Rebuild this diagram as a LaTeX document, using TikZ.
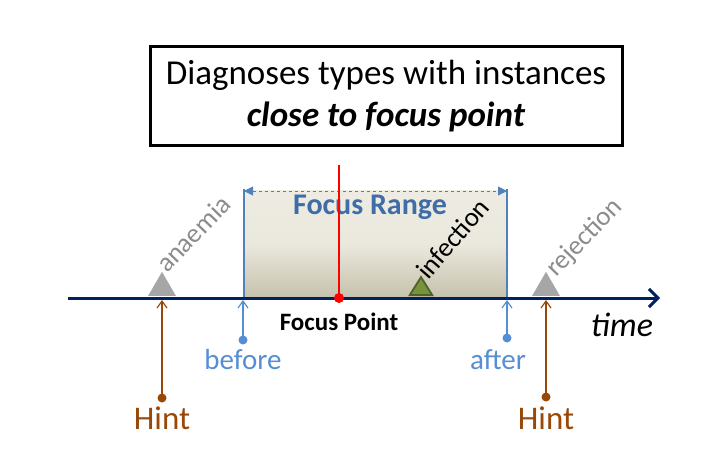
\documentclass[tikz,border=0pt]{standalone}
\usepackage{fontspec}
\setmainfont{Carlito}
\usetikzlibrary{arrows.meta,shapes.geometric}
\definecolor{navy}{HTML}{002060}
\definecolor{rangeblue}{HTML}{4F81BD}
\definecolor{rangetext}{HTML}{3F6DA8}
\definecolor{lightblue}{HTML}{558ED5}
\definecolor{hintbrown}{HTML}{984807}
\definecolor{triGray}{HTML}{A6A6A6}
\definecolor{labGray}{HTML}{8C8C8C}
\definecolor{triGreen}{HTML}{77933C}
\definecolor{triGreenDark}{HTML}{4F6228}
\definecolor{shadeTop}{HTML}{EEECE2}
\definecolor{shadeBot}{HTML}{C5C1AC}
\tikzset{
  fsz/.style={font=\fontsize{#1}{#1}\selectfont},
  evtri/.style={fill=triGray},
  evlabel/.style={rotate=46,anchor=base west,fsz=27,inner sep=0pt},
  hintarrow/.style={hintbrown,line width=1.2pt,-{Straight Barb[length=7pt,width=10pt]}},
  bndarrow/.style={lightblue,line width=1.2pt,-{Straight Barb[length=7pt,width=10pt]}},
  dotnode/.style={circle,inner sep=0pt,minimum size=#1},
}
\begin{document}
\begin{tikzpicture}[x=1pt,y=-1pt]
\useasboundingbox (0,0) rectangle (718,463);
% title box
\node[draw=black,line width=3pt,minimum width=472pt,minimum height=99pt,align=center,fsz=35,inner sep=0pt] (title) at (386,96)
  {Diagnoses types with instances\\[7pt]\textbf{\textit{close to focus point}}};
% focus range box
\shade[top color=shadeTop,bottom color=shadeBot,middle color=shadeTop!92!shadeBot] (244,190) rectangle (507,298);
\coordinate (rl) at (244,191);
\coordinate (rr) at (507,191);
\coordinate (bl) at (244,298);
\coordinate (br) at (507,298);
\draw[rangeblue,line width=1.6pt] (bl) -- (244,189);
\draw[rangeblue,line width=1.6pt] (br) -- (507,189);
\draw[rangeblue,line width=0.8pt,dashed,{Triangle[length=9pt,width=9pt]}-{Triangle[length=9pt,width=9pt]}] (rl) -- (rr);
\node[rangetext,fsz=30] (frlabel) at (370,207) {\textbf{Focus Range}};
% red focus line
\coordinate (redtop) at (339,165);
\node[dotnode=10pt] (fp) at (339,298) {};
\draw[red,line width=1.2pt] (redtop) -- (fp.center);
% axis
\coordinate (axs) at (68,298);
\coordinate (axe) at (660,298);
\draw[navy,line width=3pt,-{Straight Barb[length=9pt,width=18pt,line width=3pt]}] (axs) -- (axe);
\fill[red] (fp) circle (5pt);
% triangles
\node[isosceles triangle,isosceles triangle apex angle=60,shape border rotate=90,minimum height=24pt,inner sep=0pt,anchor=south,evtri] (ana) at (162,296) {};
\node[isosceles triangle,isosceles triangle apex angle=60,shape border rotate=90,minimum height=24pt,inner sep=0pt,anchor=south,evtri] (rej) at (546,296) {};
\node[isosceles triangle,isosceles triangle apex angle=64,shape border rotate=90,minimum height=18pt,inner sep=0pt,anchor=south,fill=triGreen,draw=triGreenDark,line width=1.8pt] (inf) at (421,296) {};
% labels
\node[evlabel,labGray] (analab) at (167,274) {anaemia};
\node[evlabel,black,rotate=3] (inflab) at (428,281) {infection};
\node[evlabel,labGray] (rejlab) at (556,278) {rejection};
\node[fsz=25] (fplab) at (339,322) {\textbf{Focus Point}};
\node[fsz=34] (time) at (622,325) {\textit{time}};
% hints
\node[dotnode=9pt,fill=hintbrown] (h1) at (162,398) {};
\node[dotnode=9pt,fill=hintbrown] (h2) at (546,397) {};
\coordinate (h1t) at (162,300);
\coordinate (h2t) at (546,300);
\draw[hintarrow] (h1.center) -- (h1t);
\draw[hintarrow] (h2.center) -- (h2t);
\node[hintbrown,fsz=33] (h1lab) at (162,418) {Hint};
\node[hintbrown,fsz=33] (h2lab) at (546,418) {Hint};
% before / after
\node[dotnode=9pt,fill=lightblue] (bef) at (243,340) {};
\node[dotnode=9pt,fill=lightblue] (aft) at (507,338) {};
\coordinate (beft) at (243,300);
\coordinate (aftt) at (507,300);
\draw[bndarrow] (bef.center) -- (beft);
\draw[bndarrow] (aft.center) -- (aftt);
\node[lightblue,fsz=29] (beflab) at (243,360) {before};
\node[lightblue,fsz=29] (aftlab) at (498,360) {after};
\end{tikzpicture}
\end{document}
